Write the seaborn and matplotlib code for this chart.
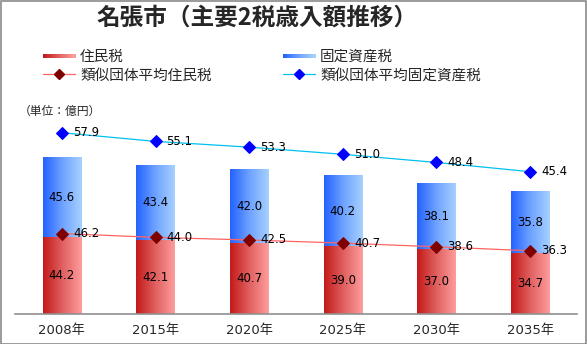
import numpy as np
import pandas as pd
import matplotlib
matplotlib.use("Agg")
import matplotlib.pyplot as plt
import seaborn as sns
from matplotlib.colors import LinearSegmentedColormap
from matplotlib.patches import Rectangle
from matplotlib.lines import Line2D
from matplotlib.legend_handler import HandlerBase

sns.set_theme(style="white")
plt.rcParams['font.family'] = ['DejaVu Sans', 'Noto Sans CJK JP']

years = ["2008年", "2015年", "2020年", "2025年", "2030年", "2035年"]
jumin = [44.2, 42.1, 40.7, 39.0, 37.0, 34.7]
kotei = [45.6, 43.4, 42.0, 40.2, 38.1, 35.8]
ruiji_jumin = [46.2, 44.0, 42.5, 40.7, 38.6, 36.3]
ruiji_kotei = [57.9, 55.1, 53.3, 51.0, 48.4, 45.4]

title = "名張市（主要2税歳入額推移）"
unit_label = "（単位：億円）"
series_names = ["住民税", "固定資産税", "類似団体平均住民税", "類似団体平均固定資産税"]

red_cmap = LinearSegmentedColormap.from_list("r", ["#c41a1a", "#e06060", "#ff9c9c"])
blue_cmap = LinearSegmentedColormap.from_list("b", ["#2563ff", "#6ea2ff", "#a6d0ff"])

df = pd.DataFrame({"year": years, "jumin": jumin, "kotei": kotei,
                   "total": np.array(jumin) + np.array(kotei)})

fig = plt.figure(figsize=(5.87, 3.44), dpi=100)
fig.patch.set_facecolor("white")
ax = fig.add_axes([15 / 587, 30 / 344, 562 / 587, 209 / 344])
ax.set_facecolor("none")

sns.barplot(data=df, x="year", y="total", color="#6ea2ff", width=0.41, ax=ax,
            saturation=1, zorder=2)
sns.barplot(data=df, x="year", y="jumin", color="#e06060", width=0.41, ax=ax,
            saturation=1, zorder=2)

n = len(years)
grad = np.linspace(0, 1, 64).reshape(1, -1)
patches = list(ax.patches)
for i, p in enumerate(patches):
    x0, w = p.get_x(), p.get_width()
    if i < n:
        y0 = jumin[i]
        y1 = p.get_height()
        cmap = blue_cmap
    else:
        y0 = 0
        y1 = p.get_height()
        cmap = red_cmap
    p.set_visible(False)
    ax.imshow(grad, cmap=cmap, extent=[x0, x0 + w, y0, y1], aspect="auto",
              zorder=2, interpolation="bilinear")

xs = np.arange(n)
stack_line = np.array(ruiji_jumin) + np.array(ruiji_kotei)
sns.lineplot(x=xs, y=ruiji_jumin, ax=ax, color="#ff6464", lw=0.9,
             marker="D", markersize=6.5, markerfacecolor="#800000",
             markeredgecolor="#800000", zorder=4)
sns.lineplot(x=xs, y=stack_line, ax=ax, color="#00c0f0", lw=0.9,
             marker="D", markersize=6.5, markerfacecolor="#0000ff",
             markeredgecolor="#0000ff", zorder=4)

for i in range(n):
    ax.text(i, jumin[i] / 2, f"{jumin[i]:.1f}", ha="center", va="center",
            fontsize=8.5, color="black", zorder=5)
    ax.text(i, jumin[i] + kotei[i] / 2, f"{kotei[i]:.1f}", ha="center",
            va="center", fontsize=8.5, color="black", zorder=5)
    ax.annotate(f"{ruiji_jumin[i]:.1f}", (i, ruiji_jumin[i]), xytext=(8, 0),
                textcoords="offset points", ha="left", va="center",
                fontsize=8.5, color="black", zorder=5)
    ax.annotate(f"{ruiji_kotei[i]:.1f}", (i, stack_line[i]), xytext=(8, 0),
                textcoords="offset points", ha="left", va="center",
                fontsize=8.5, color="black", zorder=5)

ax.set_xlim(-0.5, n - 0.5)
ax.set_ylim(0, 120)
ax.set_xlabel("")
ax.set_ylabel("")
ax.set_yticks([])
ax.tick_params(axis="x", length=0, pad=7, labelsize=9.5)
for s in ["top", "left", "right"]:
    ax.spines[s].set_visible(False)
ax.spines["bottom"].set_color("#909090")
ax.spines["bottom"].set_linewidth(1.2)

fig.text(257 / 587, 1 - 17.5 / 344, title, ha="center", va="center",
         fontsize=17, fontweight="bold", family=['Noto Sans CJK JP'])
fig.text(19 / 587, 1 - 111 / 344, unit_label, ha="left", va="center",
         fontsize=8.5, family=['Noto Sans CJK JP'])


class GradHandler(HandlerBase):
    def __init__(self, cmap):
        super().__init__()
        self.cmap = cmap

    def create_artists(self, legend, orig_handle, xdescent, ydescent, width,
                       height, fontsize, trans):
        arts = []
        k = 16
        h = height * 0.45
        for j in range(k):
            r = Rectangle((-xdescent + width * j / k, -ydescent + (height - h) / 2),
                          width / k + 0.3, h, facecolor=self.cmap(j / (k - 1)),
                          edgecolor="none", transform=trans)
            arts.append(r)
        return arts


red_h = Rectangle((0, 0), 1, 1)
blue_h = Rectangle((0, 0), 1, 1)
line_r = Line2D([], [], color="#ff6464", lw=0.9, marker="D", markersize=5,
                markerfacecolor="#800000", markeredgecolor="#800000")
line_b = Line2D([], [], color="#00c0f0", lw=0.9, marker="D", markersize=5,
                markerfacecolor="#0000ff", markeredgecolor="#0000ff")

leg_kw = dict(loc="upper left", frameon=False, handlelength=2.2,
              handletextpad=0.35, labelspacing=0.3, borderpad=0, borderaxespad=0,
              prop={"family": ['Noto Sans CJK JP'], "size": 10.5})
leg1 = fig.legend([red_h, line_r], [series_names[0], series_names[2]],
                  bbox_to_anchor=(43 / 587, 1 - 50 / 344),
                  handler_map={red_h: GradHandler(red_cmap)}, **leg_kw)
leg2 = fig.legend([blue_h, line_b], [series_names[1], series_names[3]],
                  bbox_to_anchor=(283 / 587, 1 - 50 / 344),
                  handler_map={blue_h: GradHandler(blue_cmap)}, **leg_kw)

fig.add_artist(Rectangle((0.5 / 587, 0.5 / 344), 585.5 / 587, 342.5 / 344,
                         transform=fig.transFigure, fill=False,
                         edgecolor="#8a8a8a", lw=1.2))

fig.savefig("out.png", dpi=100, facecolor="white")
